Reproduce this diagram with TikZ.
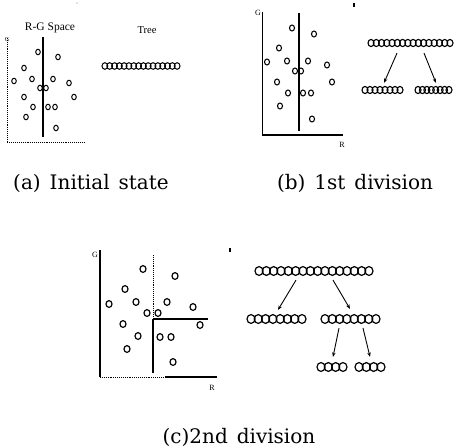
\documentclass[tikz,border=0pt]{standalone}
\usepackage{fontspec}
\setmainfont{Liberation Serif}
\newfontfamily\capfont{DejaVu Serif}
\usetikzlibrary{arrows.meta}
\newcommand\ballrow[8]{% name, x left, x right, y, n, rx, ry, line width
  \node[rowbox, minimum width={(#3-#2)*1pt}, minimum height={2*#7*1pt}] (#1) at ({(#2+#3)/2},#4) {};
  \pgfmathsetmacro\ballstep{(#3-#2-2*#6)/(#5-1)}
  \foreach \k in {1,...,#5}{\draw[line width=#8] ({#2+#6+(\k-1)*\ballstep},#4) ellipse [x radius=#6, y radius=#7];}
}
\begin{document}
\begin{tikzpicture}[x=1pt,y=-1pt,
  rowbox/.style={inner sep=0pt, outer sep=0pt, draw=none, rectangle},
  arr/.style={line width=0.9pt, -{Stealth[length=4.5pt,width=3.5pt]}},
  capt/.style={font=\capfont\fontsize{20}{24}\selectfont, inner sep=0pt},
  axlab/.style={font=\fontsize{8}{9}\selectfont, inner sep=0pt},
  ]
\useasboundingbox[fill=white] (0,0) rectangle (457,447);

% ---------------- (a) ----------------
\node[font=\fontsize{11.5}{12}\selectfont, inner sep=0pt] (rgspace) at (50,28) {R-G Space};
\node[font=\fontsize{10.5}{11}\selectfont, inner sep=0pt] (treelab) at (147,30) {Tree};
\draw[line width=0.9pt, densely dotted] (7,38) -- (7,142) -- (85,142);
\node[axlab, font=\fontsize{6}{7}\selectfont] (ga) at (7,40) {G};
\draw[line width=1.3pt] (43,37) -- (43,137);
\foreach \p in {(38,52),(58,57),(24,68),(14,81),(32,79),(53,79),(69,83),(40,88),(46,88),(24,97),(74,97),(33,107),(48,107),(55,107),(26,117),(56,128)}
  \draw[line width=1pt] \p ellipse [x radius=2.3, y radius=2.7];
\ballrow{aroot}{102}{180}{66}{16}{2.9}{3.3}{1pt}
\fill[gray] (77,3) circle[radius=0.6];
\node[capt] (capa) at (91,183) {(a)\hspace{0.45em}Initial\hspace{0.45em}state};

% ---------------- (b) ----------------
\draw[line width=1pt] (262,12) -- (262,135);
\draw[line width=1.3pt] (262,135) -- (343,135);
\node[axlab] (gb) at (258,13) {G};
\node[axlab] (rb) at (342,145) {R};
\draw[line width=1.6pt] (299,13) -- (299,131);
\draw[line width=1.2pt] (354,3) -- (354,7);
\foreach \p in {(292,28),(314,34),(279,48),(267,62),(287,61),(308,61),(327,65),(295,71),(301,71),(277,82),(332,82),(288,93),(303,93),(311,93),(280,106),(312,119)}
  \draw[line width=1.1pt] \p ellipse [x radius=2.5, y radius=3];
\ballrow{broot}{368}{453}{43}{16}{3}{3.6}{1.1pt}
\ballrow{bleft}{362}{403}{90}{8}{3}{3.6}{1.1pt}
\ballrow{bright}{415}{452}{90}{8}{3}{3.6}{1.1pt}
\draw[arr] ([shift={(-13.5,6.5)}]broot.south) -- ([shift={(1.5,-3.5)}]bleft.north);
\draw[arr] ([shift={(13.5,6.5)}]broot.south) -- ([shift={(2.5,-3.5)}]bright.north);
\node[capt] (capb) at (355,183) {(b)\hspace{0.45em}1st\hspace{0.45em}division};

% ---------------- (c) ----------------
\draw[line width=1.2pt] (100,250) -- (100,377);
\draw[line width=0.9pt, densely dotted] (100,377) -- (165,377);
\draw[line width=1.3pt] (165,377) -- (217,377);
\node[axlab] (gc) at (95,255) {G};
\node[axlab] (rc) at (212,388) {R};
\draw[line width=0.9pt, densely dotted] (153,255) -- (153,319);
\draw[line width=1.2pt] (153,319) -- (153,373);
\draw[line width=1.5pt] (153,319) -- (208,319);
\draw[line width=1.2pt] (230,248) -- (230,252);
\foreach \p in {(143,269),(175,276),(125,289),(109,304),(136,302),(167,302),(193,307),(147,313),(158,313),(123,324),(200,325),(138,336),(160,337),(171,337),(127,349),(173,362)}
  \draw[line width=1.2pt] \p ellipse [x radius=3, y radius=3.4];
\ballrow{croot}{255}{373}{271}{16}{4}{4.4}{1.2pt}
\ballrow{cleft}{247}{306}{319}{8}{4}{4.4}{1.2pt}
\ballrow{cright}{321}{380}{319}{8}{4}{4.4}{1.2pt}
\ballrow{cgl}{317}{347}{367}{4}{4}{4.4}{1.2pt}
\ballrow{cgr}{355}{385}{367}{4}{4}{4.4}{1.2pt}
\draw[arr] ([shift={(-18,4.7)}]croot.south) -- ([shift={(1.5,-4.7)}]cleft.north);
\draw[arr] ([shift={(19,4.7)}]croot.south) -- ([shift={(-0.5,-5.7)}]cright.north);
\draw[arr] ([shift={(-11.5,4.7)}]cright.south) -- ([shift={(1,-5.7)}]cgl.north);
\draw[arr] ([shift={(12.5,4.7)}]cright.south) -- ([shift={(0,-5.7)}]cgr.north);
\node[capt] (capc) at (239,437) {(c)2nd\hspace{0.45em}division};
\end{tikzpicture}
\end{document}
